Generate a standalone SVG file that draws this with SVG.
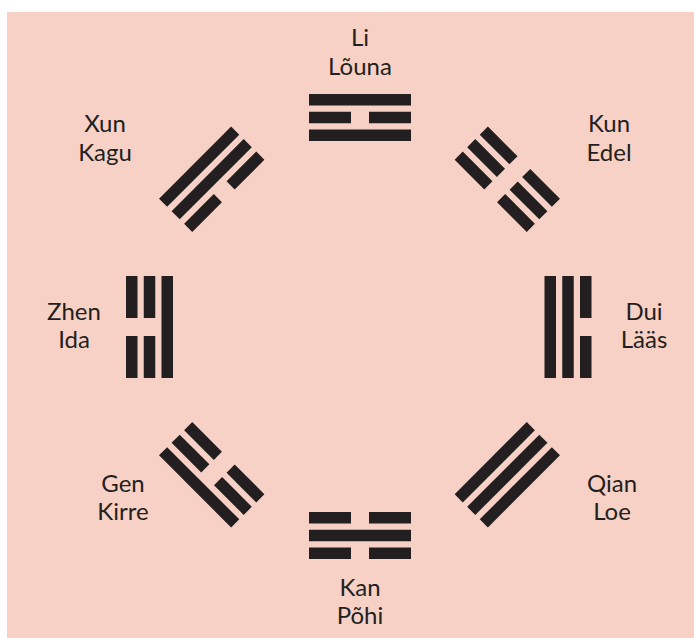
<svg xmlns="http://www.w3.org/2000/svg" xmlns:xlink="http://www.w3.org/1999/xlink" width="694" height="638" viewBox="0 0 694 638">
  <style>
    .bar { fill: #231F20; }
    .lbl { font-family: Lato, "Open Sans", "Liberation Sans", sans-serif; font-size: 24px; fill: #231F20; text-anchor: middle; }
  </style>
  <defs>
    <rect id="solid" class="bar" x="-51" y="-5.75" width="102" height="11.5"/>
    <g id="broken">
      <rect class="bar" x="-51" y="-5.75" width="42" height="11.5"/>
      <rect class="bar" x="9" y="-5.75" width="42" height="11.5"/>
    </g>
  </defs>
  <rect x="7" y="12" width="687" height="626" fill="#F7D1C5"/>

  <g id="li">
    <g transform="translate(360,117.5) rotate(0)">
      <use href="#solid" y="-17.75"/>
      <use href="#broken" y="0"/>
      <use href="#solid" y="17.75"/>
    </g>
    <text class="lbl" x="360" y="46">Li</text>
    <text class="lbl" x="360" y="75">Lõuna</text>
  </g>

  <g id="kun">
    <g transform="translate(507.3,179.2) rotate(45)">
      <use href="#broken" y="-17.75"/>
      <use href="#broken" y="0"/>
      <use href="#broken" y="17.75"/>
    </g>
    <text class="lbl" x="609" y="132">Kun</text>
    <text class="lbl" x="609" y="161">Edel</text>
  </g>

  <g id="dui">
    <g transform="translate(568,327) rotate(90)">
      <use href="#broken" y="-17.75"/>
      <use href="#solid" y="0"/>
      <use href="#solid" y="17.75"/>
    </g>
    <text class="lbl" x="644" y="320">Dui</text>
    <text class="lbl" x="644" y="348">Lääs</text>
  </g>

  <g id="qian">
    <g transform="translate(507.3,474.8) rotate(135)">
      <use href="#solid" y="-17.75"/>
      <use href="#solid" y="0"/>
      <use href="#solid" y="17.75"/>
    </g>
    <text class="lbl" x="612" y="492">Qian</text>
    <text class="lbl" x="612" y="520">Loe</text>
  </g>

  <g id="kan">
    <g transform="translate(360,535.5) rotate(180)">
      <use href="#broken" y="-17.75"/>
      <use href="#solid" y="0"/>
      <use href="#broken" y="17.75"/>
    </g>
    <text class="lbl" x="360" y="596">Kan</text>
    <text class="lbl" x="360" y="624">Põhi</text>
  </g>

  <g id="gen">
    <g transform="translate(211.7,474.8) rotate(225)">
      <use href="#solid" y="-17.75"/>
      <use href="#broken" y="0"/>
      <use href="#broken" y="17.75"/>
    </g>
    <text class="lbl" x="123" y="492">Gen</text>
    <text class="lbl" x="123" y="520">Kirre</text>
  </g>

  <g id="zhen">
    <g transform="translate(149.5,327) rotate(270)">
      <use href="#broken" y="-17.75"/>
      <use href="#broken" y="0"/>
      <use href="#solid" y="17.75"/>
    </g>
    <text class="lbl" x="74" y="320">Zhen</text>
    <text class="lbl" x="74" y="348">Ida</text>
  </g>

  <g id="xun">
    <g transform="translate(211.7,179.2) rotate(315)">
      <use href="#solid" y="-17.75"/>
      <use href="#solid" y="0"/>
      <use href="#broken" y="17.75"/>
    </g>
    <text class="lbl" x="105" y="132">Xun</text>
    <text class="lbl" x="105" y="161">Kagu</text>
  </g>
</svg>
